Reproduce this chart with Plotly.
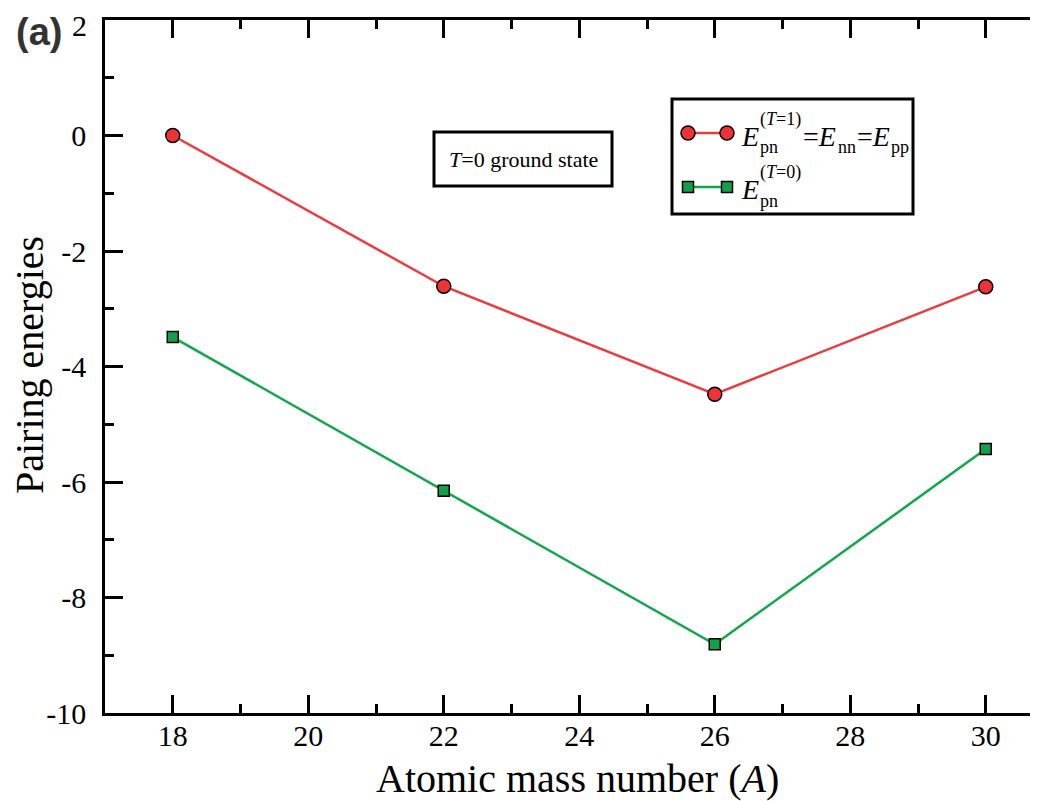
import plotly.graph_objects as go

# ---- data ----
mass_numbers = [18, 22, 26, 30]
e_t1 = [0.0, -2.61, -4.48, -2.62]      # E_pn^(T=1) = E_nn = E_pp
e_t0 = [-3.49, -6.15, -8.81, -5.43]    # E_pn^(T=0)
x_ticks = [18, 20, 22, 24, 26, 28, 30]
y_ticks = [2, 0, -2, -4, -6, -8, -10]

# the page adds an 8px body margin, so the figure is drawn 8px smaller
OFF = 8
W, H = 1038 - OFF, 801 - OFF
# plot area, in screenshot pixels
L, R, T, B = 105, 1038, 20, 713
SERIF = "Liberation Serif"


def px(x):
    return (x - L) / (R - L)


def py(y):
    return (B - y) / (B - T)


RED_LINE = "#EC3B3F"
RED_FILL = "#EE3338"
GREEN_LINE = "#12A64D"
GREEN_FILL = "#13A04A"

fig = go.Figure()
fig.add_trace(go.Scatter(
    x=mass_numbers, y=e_t1, mode="lines+markers",
    line=dict(color=RED_LINE, width=2.5),
    marker=dict(symbol="circle", size=14, color=RED_FILL, line=dict(color="black", width=1.5)),
    showlegend=False))
fig.add_trace(go.Scatter(
    x=mass_numbers, y=e_t0, mode="lines+markers",
    line=dict(color=GREEN_LINE, width=2.5),
    marker=dict(symbol="square", size=11, color=GREEN_FILL, line=dict(color="black", width=1.5)),
    showlegend=False))
# invisible trace to carry the right-hand tick axis
fig.add_trace(go.Scatter(x=mass_numbers, y=e_t1, yaxis="y2", mode="lines",
                         line=dict(width=0), opacity=0, hoverinfo="skip", showlegend=False))

x_range = [17, 17 + (R - L) / 67.75]

fig.update_layout(
    width=W, height=H,
    margin=dict(l=L - OFF, r=0, t=T - OFF, b=H - (B - OFF), pad=0),
    paper_bgcolor="white", plot_bgcolor="white",
    font=dict(family=SERIF, color="black"),
    xaxis=dict(
        range=x_range, tickvals=x_ticks, ticktext=[str(v) for v in x_ticks],
        showgrid=False, zeroline=False,
        showline=True, linecolor="black", linewidth=2.5, mirror="ticks",
        ticks="inside", ticklen=18, tickwidth=2.5, tickcolor="black",
        tickfont=dict(family=SERIF, size=30, color="black"),
        ticklabelstandoff=-6,
        minor=dict(dtick=1, tick0=17, ticks="inside", ticklen=9, tickwidth=2.5, tickcolor="black", showgrid=False),
    ),
    yaxis=dict(
        range=[-10, 2], tickvals=y_ticks, ticktext=[str(v) for v in y_ticks],
        showgrid=False, zeroline=False,
        showline=True, linecolor="black", linewidth=2.5, mirror=False,
        ticks="inside", ticklen=18, tickwidth=2.5, tickcolor="black",
        tickfont=dict(family=SERIF, size=30, color="black"),
        ticklabelstandoff=10,
        minor=dict(dtick=1, tick0=0, ticks="inside", ticklen=9, tickwidth=2.5, tickcolor="black", showgrid=False),
    ),
    yaxis2=dict(
        range=[-10, 2], overlaying="y", side="right", tickvals=y_ticks,
        showticklabels=False, showgrid=False, zeroline=False, showline=False,
        ticks="inside", ticklen=5, tickwidth=2.5, tickcolor="black",
    ),
)

shapes = []
annotations = []

# top y tick label (plotly drops it because it pokes above the page)
annotations.append(dict(x=px(89), y=py(25), xref="paper", yref="paper",
                        text=str(y_ticks[0]), showarrow=False,
                        font=dict(family=SERIF, size=30, color="black"),
                        xanchor="right", yanchor="middle"))

# axis titles
annotations.append(dict(x=px(577), y=py(778), xref="paper", yref="paper",
                        text="Atomic mass number (<i>A</i>)", showarrow=False,
                        font=dict(family=SERIF, size=40, color="black"),
                        xanchor="center", yanchor="middle"))
annotations.append(dict(x=px(29), y=py(365), xref="paper", yref="paper",
                        text="Pairing energies", showarrow=False, textangle=-90,
                        font=dict(family=SERIF, size=40, color="black"),
                        xanchor="center", yanchor="middle"))
# panel label
annotations.append(dict(x=px(39), y=py(32), xref="paper", yref="paper",
                        text="<b>(a)</b>", showarrow=False,
                        font=dict(family="Liberation Sans", size=38, color="#333333"),
                        xanchor="center", yanchor="middle"))

# T=0 ground state box
shapes.append(dict(type="rect", xref="paper", yref="paper",
                   x0=px(434), x1=px(612), y0=py(132), y1=py(186),
                   line=dict(color="black", width=3), fillcolor="white", layer="above"))
annotations.append(dict(x=px(523), y=py(160), xref="paper", yref="paper",
                        text="<i>T</i>=0 ground state", showarrow=False,
                        font=dict(family=SERIF, size=22, color="black"),
                        xanchor="center", yanchor="middle"))

# legend box
shapes.append(dict(type="rect", xref="paper", yref="paper",
                   x0=px(672), x1=px(913), y0=py(99), y1=py(214),
                   line=dict(color="black", width=3), fillcolor="white", layer="above"))


def sample(yc, color, fill, symbol, size):
    shapes.append(dict(type="line", xref="paper", yref="paper",
                       x0=px(688), x1=px(727), y0=py(yc), y1=py(yc),
                       line=dict(color=color, width=2.5), layer="above"))
    for xc in (688, 727):
        r = size / 2
        shapes.append(dict(type="circle" if symbol == "circle" else "rect",
                           xref="paper", yref="paper",
                           x0=px(xc - r), x1=px(xc + r), y0=py(yc + r), y1=py(yc - r),
                           line=dict(color="black", width=1.5), fillcolor=fill, layer="above"))


sample(133, RED_LINE, RED_FILL, "circle", 14)
sample(187, GREEN_LINE, GREEN_FILL, "square", 11)


def txt(x, y, text, size):
    annotations.append(dict(x=px(x), y=py(y), xref="paper", yref="paper", text=text,
                            showarrow=False, font=dict(family=SERIF, size=size, color="black"),
                            xanchor="left", yanchor="middle"))


def legend_row(dy, sup):
    txt(739, 136 + dy, "<i>E</i>", 28)
    txt(758, 119 + dy, "(<i>T</i>=%s)" % sup, 18)
    txt(758, 147 + dy, "pn", 18)


legend_row(0, "1")
txt(801, 136, "=<i>E</i>", 28)
txt(836, 147, "nn", 18)
txt(855, 136, "=<i>E</i>", 28)
txt(889, 147, "pp", 18)
legend_row(54, "0")

fig.update_layout(shapes=shapes, annotations=annotations)
fig.write_html("out.html")
